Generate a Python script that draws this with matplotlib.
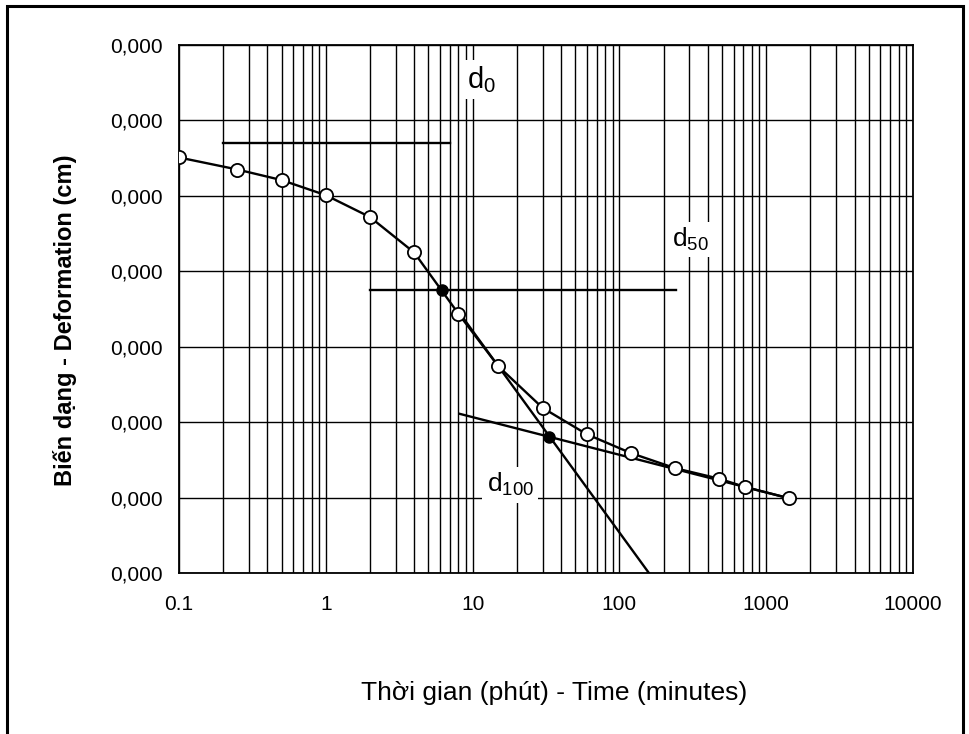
import matplotlib
matplotlib.use("Agg")
import matplotlib.pyplot as plt
from matplotlib.patches import Rectangle

plt.rcParams["font.family"] = ["Liberation Sans", "DejaVu Sans"]
plt.rcParams["mathtext.fontset"] = "custom"
plt.rcParams["mathtext.rm"] = "Liberation Sans"

# time readings (minutes) and deformation (in grid units, downward)
times = [0.1, 0.25, 0.5, 1, 2, 4, 8, 15, 30, 60, 120, 240, 480, 720, 1440]
deform = [1.49, 1.65, 1.79, 1.99, 2.28, 2.75, 3.56, 4.26, 4.81, 5.16, 5.41, 5.61, 5.75, 5.86, 6.01]

# Casagrande construction
d0_t, d0_y = [0.2, 7.0], 1.30
d50_t, d50_y = [2.0, 243.0], 3.245
tangent_t, tangent_d = [8.0, 159.0], [3.53, 7.0]
secondary_t, secondary_d = [8.2, 1440.0], [4.89, 6.01]
key_t = [6.15, 33.4]
key_d = [3.245, 5.19]

yticks = list(range(8))
ylabels = ["0,000"] * 8
xticks = [0.1, 1, 10, 100, 1000, 10000]
xlabels = ["0.1", "1", "10", "100", "1000", "10000"]

fig = plt.figure(figsize=(9.7, 7.34), dpi=100)
ax = fig.add_axes([0.1845, 0.2193, 0.7567, 0.7193])

ax.set_xscale("log")
ax.set_xlim(0.1, 10000)
ax.set_ylim(7, 0)

ax.set_xticks(xticks)
ax.set_xticklabels(xlabels)
ax.set_yticks(yticks)
ax.set_yticklabels(ylabels)
ax.tick_params(axis="both", length=0, labelsize=15)
ax.tick_params(axis="y", pad=12)
ax.tick_params(axis="x", pad=16)
ax.xaxis.set_minor_formatter(plt.NullFormatter())
ax.tick_params(which="minor", length=0)

ax.grid(True, which="both", axis="x", color="black", lw=1.0)
ax.grid(True, which="major", axis="y", color="black", lw=1.0)
ax.set_axisbelow(True)
for s in ax.spines.values():
    s.set_linewidth(1.3)

lw = 1.7
ax.plot(d0_t, [d0_y, d0_y], color="black", lw=lw, zorder=3)
ax.plot(d50_t, [d50_y, d50_y], color="black", lw=lw, zorder=3)
ax.plot(tangent_t, tangent_d, color="black", lw=lw, zorder=3)
ax.plot(secondary_t, secondary_d, color="black", lw=lw, zorder=3)
ax.plot(times, deform, color="black", lw=lw, marker="o", ms=9.5,
        mfc="white", mec="black", mew=1.3, zorder=4)
ax.plot(key_t, key_d, ls="none", marker="o", ms=8, color="black", zorder=5)

box = dict(facecolor="white", edgecolor="none", pad=3)
ax.text(11.5, 0.46, r"$\mathrm{d_{0}}$", fontsize=21, ha="center", va="center", bbox=box, zorder=2)
ax.text(303, 2.58, r"$\mathrm{d_{50}}$", fontsize=19, ha="center", va="center", bbox=box, zorder=2)
ax.text(18.0, 5.83, r"$\mathrm{d_{100}}$", fontsize=19, ha="center", va="center", bbox=box, zorder=2)

ax.set_xlabel("Thời gian (phút) - Time (minutes)", fontsize=19)
ax.xaxis.set_label_coords(0.511, -0.205)
ax.set_ylabel("Biến dạng - Deformation (cm)", fontsize=17, fontweight="bold")
ax.yaxis.set_label_coords(-0.139, 0.479)

fig.patches.append(Rectangle((7 / 970, -0.05), 956 / 970, 1.05 - 6 / 734,
                             transform=fig.transFigure, fill=False,
                             edgecolor="black", lw=2.2))

fig.savefig("out.png", dpi=100)
